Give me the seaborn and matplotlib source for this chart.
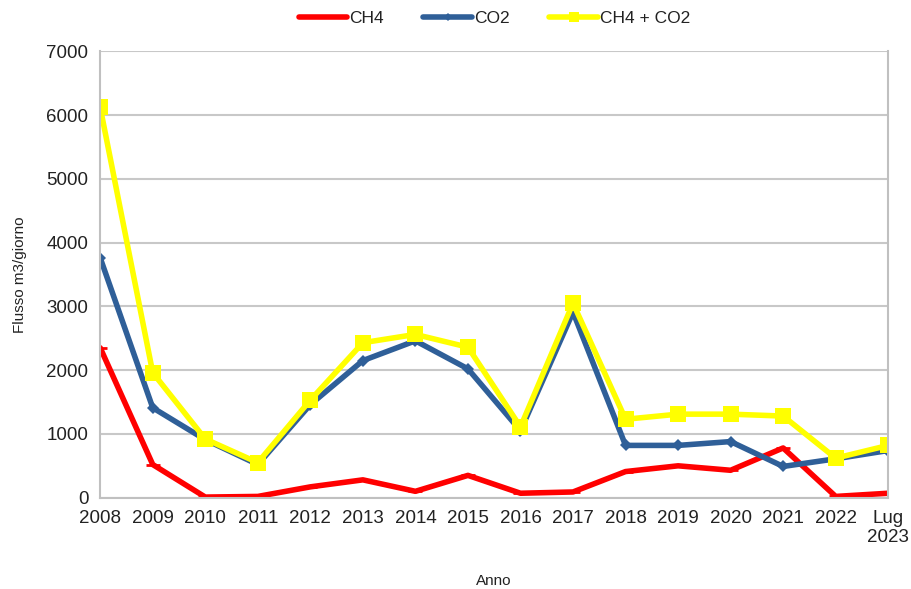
import matplotlib
matplotlib.use("Agg")
import matplotlib.pyplot as plt
import numpy as np
import pandas as pd
import seaborn as sns

# Dati
anni = ["2008", "2009", "2010", "2011", "2012", "2013", "2014", "2015",
        "2016", "2017", "2018", "2019", "2020", "2021", "2022", "Lug\n2023"]
ch4 = [2350, 520, 10, 20, 170, 280, 100, 350, 70, 90, 410, 500, 430, 780, 20, 70]
co2 = [3760, 1410, 910, 520, 1460, 2150, 2460, 2020, 1050, 2910, 820, 820, 880, 490, 610, 740]
ch4_co2 = [6120, 1960, 920, 550, 1530, 2430, 2560, 2360, 1110, 3050, 1230, 1310, 1310, 1280, 620, 820]

sns.set_style("white")
plt.rcParams['font.family'] = ['Liberation Sans', 'DejaVu Sans']
plt.rcParams['text.color'] = '#222222'

pos = np.arange(len(anni))
df = pd.DataFrame({"pos": pos, "CH4": ch4, "CO2": co2, "CH4 + CO2": ch4_co2})

fig, ax = plt.subplots(figsize=(9.11, 5.89), dpi=100)
fig.subplots_adjust(left=0.11, right=0.975, bottom=0.155, top=0.913)

sns.lineplot(data=df, x="pos", y="CH4", ax=ax, color="#ff0000", linewidth=4,
             marker="_", markersize=10, markeredgewidth=2, markeredgecolor="#ff0000",
             label="CH4")
sns.lineplot(data=df, x="pos", y="CO2", ax=ax, color="#2f5f98", linewidth=4,
             marker="D", markersize=6, markeredgewidth=0, markeredgecolor="#2f5f98",
             label="CO2")
sns.lineplot(data=df, x="pos", y="CH4 + CO2", ax=ax, color="#ffff00", linewidth=4,
             marker="s", markersize=11, markeredgewidth=0, markeredgecolor="#ffff00",
             label="CH4 + CO2")

ax.set_xlim(0, len(anni) - 1)
ax.set_ylim(0, 7000)
ax.set_yticks(range(0, 7001, 1000))
ax.set_xticks(pos)
ax.set_xticklabels(anni, fontsize=13.5, color="#222222")
ax.tick_params(axis="y", labelsize=13.5, labelcolor="#222222")
ax.tick_params(axis="both", direction="out", length=5, color="#bbbbbb", width=1.5)
ax.yaxis.grid(True, color="#c8c8c8", linewidth=1.5)
ax.set_axisbelow(True)

for s in ["left", "bottom", "right"]:
    ax.spines[s].set_color("#c0c0c0")
    ax.spines[s].set_linewidth(1.5)
ax.spines["top"].set_visible(False)

ax.set_xlabel("Anno", fontsize=11, labelpad=20, color="#222222")
ax.set_ylabel("Flusso m3/giorno", fontsize=11, labelpad=14, color="#222222")

leg = ax.legend(loc="upper center", bbox_to_anchor=(0.5, 1.125), ncol=3, frameon=False,
                fontsize=12.5, handlelength=2.8, handletextpad=0.1, columnspacing=2.3,
                markerscale=0.7)

plt.savefig("out.png", dpi=100)
